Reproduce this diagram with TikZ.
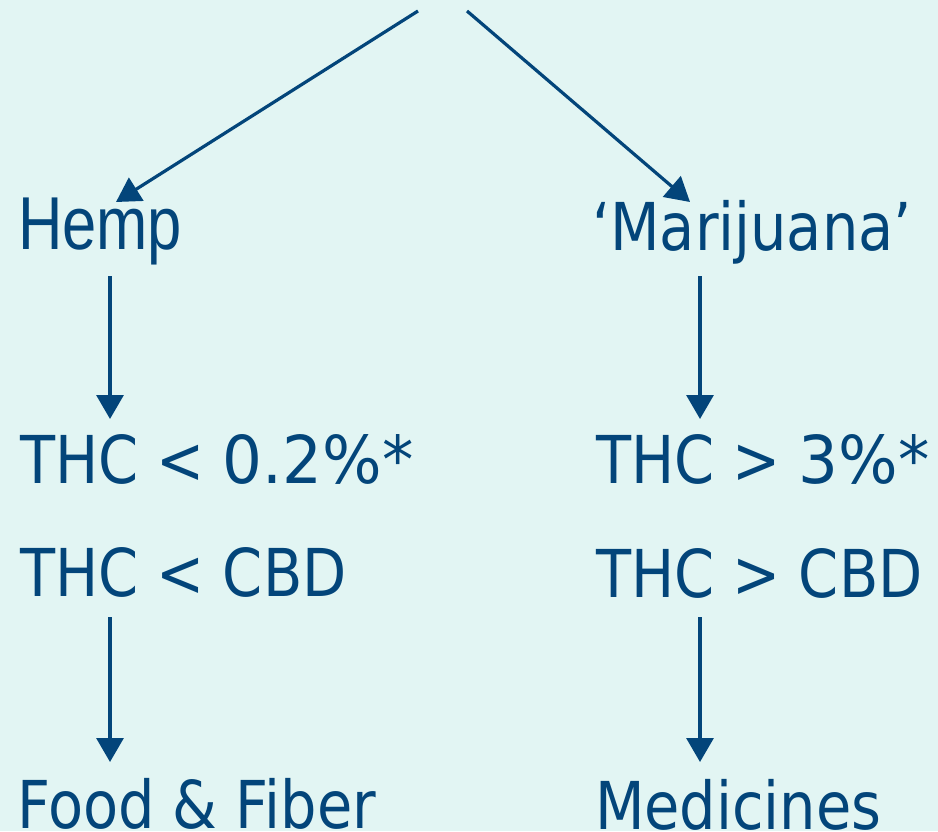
\documentclass[tikz,border=0pt]{standalone}
\usepackage{fontspec}
\usetikzlibrary{arrows.meta}
\newfontfamily\tahfont[FakeStretch=0.87]{DejaVu Sans}
\newfontfamily\tahwide[FakeStretch=0.95]{DejaVu Sans}
\newfontfamily\arfont[FakeStretch=0.82]{Liberation Sans}
\definecolor{bgcol}{HTML}{E2F5F3}
\definecolor{fgcol}{HTML}{03457A}
\tikzset{
  lbl/.style={anchor=base west, inner sep=0pt, outer sep=0pt, text=fgcol, font=\tahfont\fontsize{66}{70}\selectfont},
  lblA/.style={anchor=base west, inner sep=0pt, outer sep=0pt, text=fgcol, font=\arfont\fontsize{75}{80}\selectfont},
  arr/.style={draw=fgcol, line width=3.2pt, -{Triangle[length=24pt,width=27pt]}},
}
\begin{document}
\begin{tikzpicture}[x=1pt,y=-1pt]
  \fill[bgcol] (0,0) rectangle (938,831);
  \useasboundingbox (0,0) rectangle (938,831);
  \begin{scope}
  \clip (0,0) rectangle (938,831);
  \node[lblA] (hemp) at (18,249) {Hemp};
  \node[lbl] (mar) at (592,250) {‘Marijuana’};
  \node[lbl] (thcA) at (20,483) {THC < {\tahwide 0.2\%*}};
  \node[lbl] (thcB) at (20,596) {THC < CBD};
  \node[lbl] (thcC) at (596,483) {THC > {\tahwide 3\%*}};
  \node[lbl] (thcD) at (596,597) {THC > CBD};
  \node[lbl] (food) at (17,828) {Food \& Fiber};
  \node[lbl] (med) at (595,829) {Medicines};
  \end{scope}
  % connector end points
  \coordinate (topL) at (418,11);
  \coordinate (topR) at (467,11);
  \coordinate (hempIn) at (116,202);
  \coordinate (marIn) at (690,202);
  \coordinate (hempOut) at (110,276);
  \coordinate (thcAIn) at (110,419);
  \coordinate (marOut) at (700,276);
  \coordinate (thcCIn) at (700,419);
  \coordinate (thcBOut) at (110,617);
  \coordinate (foodIn) at (110,762);
  \coordinate (thcDOut) at (700,617);
  \coordinate (medIn) at (700,762);
  \draw[arr] (topL) -- (hempIn);
  \draw[arr] (topR) -- (marIn);
  \draw[arr] (hempOut) -- (thcAIn);
  \draw[arr] (marOut) -- (thcCIn);
  \draw[arr] (thcBOut) -- (foodIn);
  \draw[arr] (thcDOut) -- (medIn);
\end{tikzpicture}
\end{document}
